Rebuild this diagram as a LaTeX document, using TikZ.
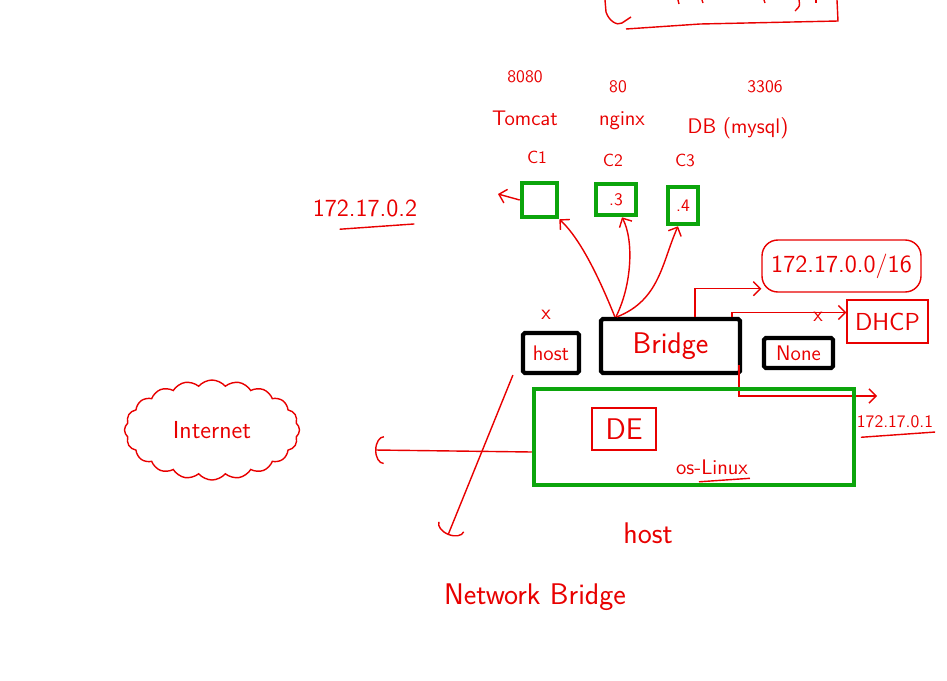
\documentclass[tikz,border=0pt]{standalone}
\usepackage{xcolor}
\usepackage{tikz}
\usetikzlibrary{arrows.meta,shapes.symbols}
\definecolor{pen}{RGB}{232,0,0}
\definecolor{boxgreen}{RGB}{12,165,12}

\begin{document}
\begin{tikzpicture}[x=0.02cm, y=-0.02cm, font=\sffamily,
    lbl/.style={text=pen, inner sep=1pt},
    tinytxt/.style={font=\sffamily\fontsize{10}{12}\selectfont},
    midtxt/.style={font=\sffamily\fontsize{12}{14}\selectfont},
    bigtxt/.style={font=\sffamily\fontsize{14}{16}\selectfont},
    hugetxt/.style={font=\sffamily\fontsize{17}{19}\selectfont},
    ctr/.style={draw=boxgreen, line width=2.6pt, inner sep=0pt, text=pen},
    netbox/.style={draw=black, line width=2.4pt, rounded corners=1pt, text=pen, inner sep=0pt},
    inkbox/.style={draw=pen, line width=0.8pt, text=pen},
    ink/.style={draw=pen, line width=0.8pt},
    tip/.style={-{Straight Barb[length=4pt,width=8pt]}},
    hook/.style={-{Arc Barb[length=5pt,width=16pt]}}]

    \useasboundingbox (0,0) rectangle (947,680);

    % box cut off at the top
    \draw[ink] (605,0) -- (606,12) .. controls (609,21) and (617,26) .. (622,23) -- (631,17);
    \draw[ink] (626,29) -- (700,24) -- (838,21) -- (837,0);
    \draw[ink] (678,0) -- (679,4);
    \draw[ink] (702,0) -- (703,3);
    \draw[ink] (764,0) -- (765,3);
    \draw[ink] (799,0) .. controls (800,6) .. (795,11);
    \draw[ink] (816,0) -- (816,3);

    % ports, apps and names of the containers
    \node[lbl, tinytxt] (p1) at (525,77) {8080};
    \node[lbl, tinytxt] (p2) at (618,87) {80};
    \node[lbl, tinytxt] (p3) at (765,87) {3306};
    \node[lbl, midtxt] (app1) at (525,118) {Tomcat};
    \node[lbl, midtxt] (app2) at (622,121) {nginx};
    \node[lbl, midtxt] (app3) at (738,128) {DB (mysql)};
    \node[lbl, tinytxt] (n1) at (537,157) {C1};
    \node[lbl, tinytxt] (n2) at (613,160) {C2};
    \node[lbl, tinytxt] (n3) at (685,160) {C3};

    % containers
    \node[ctr, minimum width=0.7cm, minimum height=0.68cm] (c1) at (539.5,200) {};
    \node[ctr, tinytxt, minimum width=0.8cm, minimum height=0.62cm] (c2) at (616,199.5) {.3};
    \node[ctr, tinytxt, minimum width=0.6cm, minimum height=0.74cm] (c3) at (683,205.5) {.4};

    \coordinate (c1out) at (498,194);
    \draw[ink, tip] (c1.west) -- (c1out);

    \node[lbl, bigtxt] (ipc1) at (365,208) {172.17.0.2};
    \draw[ink] ([xshift=0.58cm,yshift=-6pt]ipc1.south west) -- ([xshift=-0.1cm,yshift=-3pt]ipc1.south east);

    % network drivers
    \node[netbox, midtxt, minimum width=1.12cm, minimum height=0.8cm] (hostnet) at (551,353) {host};
    \node[netbox, hugetxt, minimum width=2.78cm, minimum height=1.08cm] (bridge) at (670.5,346) {Bridge};
    \node[netbox, midtxt, minimum width=1.38cm, minimum height=0.6cm] (nonenet) at (798.5,353) {None};
    \node[lbl, midtxt] (xhost) at (546,315) {x};

    % bridge to the containers
    \draw[ink, tip] ([xshift=0.32cm]bridge.north west) .. controls (602,285) and (582,240) .. (c1.south east);
    \draw[ink, tip] ([xshift=0.34cm]bridge.north west) .. controls (632,285) and (634,240) .. ([xshift=0.12cm]c2.south);
    \draw[ink, tip] ([xshift=0.36cm]bridge.north west) .. controls (660,300) and (662,262) .. ([xshift=-0.1cm]c3.south);

    % subnet and dhcp
    \node[inkbox, bigtxt, rounded corners=9pt, minimum width=3.18cm, minimum height=1.04cm] (cidr) at (841.5,266) {172.17.0.0/16};
    \draw[ink, tip] ([xshift=0.49cm]bridge.north) |- ([yshift=0.08cm]cidr.south west);

    \node[inkbox, bigtxt, minimum width=1.62cm, minimum height=0.86cm] (dhcp) at (887.5,321.5) {DHCP};
    \draw[ink, tip] ([xshift=-0.2cm]bridge.north east) |- ([yshift=0.18cm]dhcp.west);
    \node[lbl, midtxt] (xdhcp) at (818,317) {x};

    % gateway
    \coordinate (gw) at (877,396);
    \draw[ink, tip] ([xshift=-0.06cm,yshift=-0.38cm]bridge.east) |- (gw);
    \node[lbl, tinytxt] (gwip) at (895,422) {172.17.0.1};
    \draw[ink] ([xshift=0.12cm,yshift=-4pt]gwip.south west) -- ([yshift=-1pt]gwip.south east);

    % host machine
    \node[ctr, minimum width=6.4cm, minimum height=1.92cm] (hostbox) at (694,437) {};
    \node[inkbox, hugetxt, minimum width=1.28cm, minimum height=0.84cm] (debox) at (624,429) {DE};
    \node[lbl, midtxt] (os) at (712,467) {os-Linux};
    \draw[ink] ([xshift=-1.02cm,yshift=-3pt]os.south east) -- ([yshift=-1pt]os.south east);
    \node[lbl, hugetxt] (hostlbl) at (648,533) {host};

    % internet
    \node[cloud, draw=pen, line width=0.8pt, cloud puffs=20, cloud puff arc=100, aspect=1.8,
          minimum width=3.5cm, minimum height=2cm, text=pen, bigtxt] (inet) at (212,430) {Internet};
    \coordinate (inetend) at (375,450);
    \draw[ink, hook] ([yshift=-0.3cm]hostbox.west) -- (inetend);

    % network bridge
    \coordinate (nbend) at (448,535);
    \draw[ink, hook] ([xshift=-0.16cm]hostnet.south west) -- (nbend);
    \node[lbl, hugetxt] (nbl) at (535,597) {Network Bridge};
\end{tikzpicture}
\end{document}
